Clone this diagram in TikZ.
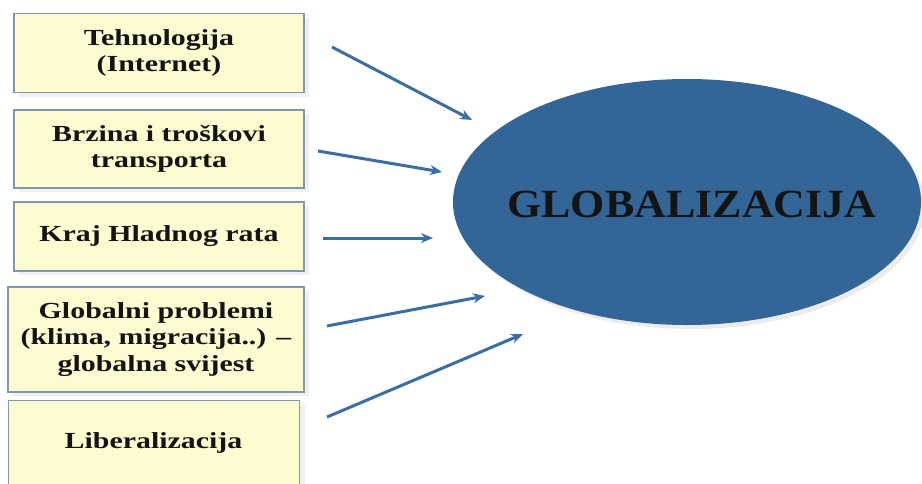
\documentclass[tikz,border=0pt]{standalone}
\usepackage{fontspec}
\setmainfont{Liberation Serif}
\newfontfamily\boxfont[FakeStretch=1.3]{Liberation Serif}
\newfontfamily\bigfont[FakeStretch=1.1]{Liberation Serif}
\usetikzlibrary{shapes.geometric,arrows.meta,shadows}
\definecolor{boxfill}{HTML}{FDFBD0}
\definecolor{boxline}{HTML}{7F97B5}
\definecolor{ellfill}{HTML}{346597}
\definecolor{arrowc}{HTML}{3A6EA5}
\tikzset{
  factor/.style={draw=boxline, line width=1.3pt, fill=boxfill, rectangle, inner sep=0pt,
    align=center, font=\boxfont\bfseries\fontsize{23}{26.5}\selectfont, text=black!92,
    drop shadow={opacity=0.12, shadow xshift=5pt, shadow yshift=-4pt}},
  flow/.style={draw=arrowc, line width=3pt, -{Stealth[length=12pt,width=10pt]}}
}
\begin{document}
\begin{tikzpicture}[x=1pt,y=-1pt]
\useasboundingbox (0,0) rectangle (922,483);
\clip (0,0) rectangle (922,483);
\node[factor, minimum width=290pt, minimum height=79pt] (b1) at (159,53) {Tehnologija\\(Internet)};
\node[factor, minimum width=290pt, minimum height=78pt] (b2) at (159,149) {Brzina i troškovi\\transporta};
\node[factor, minimum width=290pt, minimum height=69pt] (b3) at (159,236.5) {Kraj Hladnog rata};
\node[factor, minimum width=296pt, minimum height=105pt] (b4) at (156,339.5) {Globalni problemi\\(klima, migracija..) –\\globalna svijest};
\node[factor, minimum width=291pt, minimum height=100pt, anchor=north west] (b5) at (8,400) {};
\node[font=\boxfont\bfseries\fontsize{23}{26.5}\selectfont, text=black!92] (t5) at (153.5,443) {Liberalizacija};
\node[ellipse, fill=ellfill, minimum width=468pt, minimum height=246pt, inner sep=0pt,
  drop shadow={opacity=0.15, shadow xshift=4pt, shadow yshift=-4pt}] (g) at (687,202) {};
\node[font=\bigfont\bfseries\fontsize{40}{44}\selectfont, text=black!92] (gt) at (692,204) {GLOBALIZACIJA};
\coordinate (s1) at (332,47);  \coordinate (e1) at (472,120);
\coordinate (s2) at (318,151); \coordinate (e2) at (442,172);
\coordinate (s3) at (323,238); \coordinate (e3) at (433,238);
\coordinate (s4) at (327,326); \coordinate (e4) at (485,296);
\coordinate (s5) at (327,417); \coordinate (e5) at (523,334);
\draw[flow] (s1) -- (e1);
\draw[flow] (s2) -- (e2);
\draw[flow] (s3) -- (e3);
\draw[flow] (s4) -- (e4);
\draw[flow] (s5) -- (e5);
\end{tikzpicture}
\end{document}
